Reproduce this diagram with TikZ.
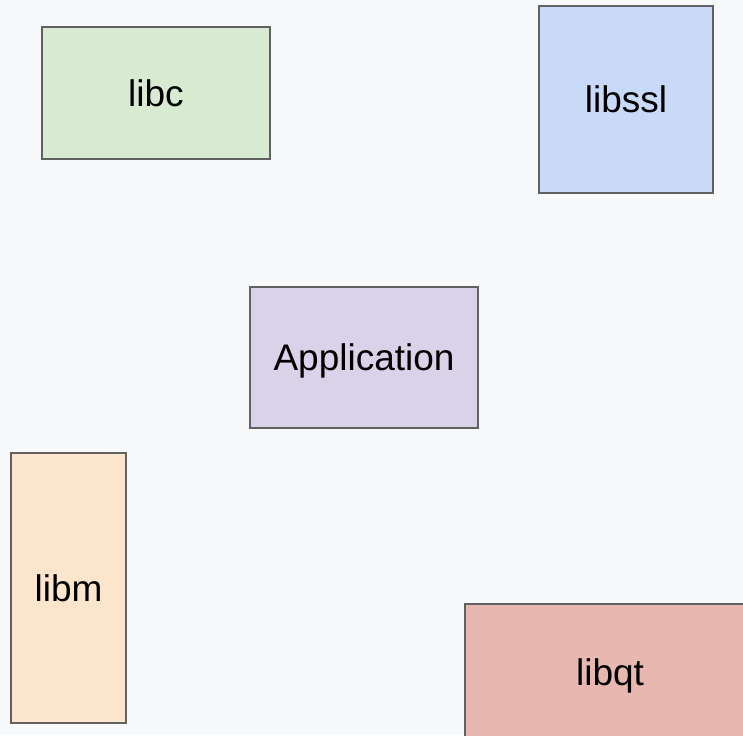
\documentclass[tikz,border=0pt]{standalone}
\usepackage{fontspec}
\setmainfont{Liberation Sans}
\definecolor{bg}{HTML}{F8F9FA}
\definecolor{cgreen}{HTML}{D9EAD3}
\definecolor{cblue}{HTML}{C9DAF8}
\definecolor{cpurple}{HTML}{D9D2E9}
\definecolor{corange}{HTML}{FCE5CD}
\definecolor{cred}{HTML}{E6B8AF}
\definecolor{cborder}{HTML}{616161}
\begin{document}
\begin{tikzpicture}[x=1pt,y=1pt,
  libbox/.style={draw=cborder, line width=1.3pt, inner sep=0pt, text height=27pt, text depth=0pt,
    font=\fontsize{37}{40}\selectfont, text=black}]
\fill[bg] (0,0) rectangle (743,735);
\useasboundingbox (0,0) rectangle (743,735);
\clip (0,0) rectangle (743,735);
\node[libbox, fill=cgreen, minimum width=228pt, minimum height=132pt] (libc) at (156,642) {libc};
\node[libbox, fill=cblue, minimum width=174pt, minimum height=187pt] (libssl) at (626,635.5) {libssl};
\node[libbox, fill=cpurple, minimum width=228pt, minimum height=141pt] (app) at (364,377.5) {Application};
\node[libbox, fill=corange, minimum width=115pt, minimum height=270pt] (libm) at (68.5,147) {libm};
\node[libbox, fill=cred, minimum width=290pt, minimum height=136pt] (libqt) at (610,63) {libqt};
\end{tikzpicture}
\end{document}
